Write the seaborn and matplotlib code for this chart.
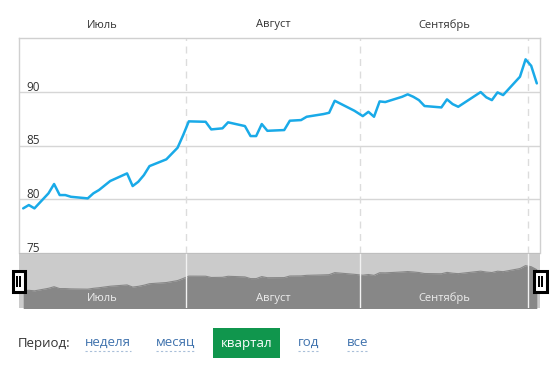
import numpy as np
import pandas as pd
import matplotlib
matplotlib.use("Agg")
import matplotlib.pyplot as plt
from matplotlib.patches import Rectangle
import seaborn as sns

# ---- data ----
days = [2, 3, 4, 6.5, 7.5, 8.5, 9.5, 10.5, 13.5, 14.5, 15.5, 17.5, 20.5, 21.5, 22.5,
        23.5, 24.5, 27.5, 29.5, 30.5, 31.5, 34.5, 35.5, 37.5, 38.5, 41.5, 42.5, 43.5,
        44.5, 45.5, 48.5, 49.5, 51.5, 52.5, 55.5, 56.5, 57.5, 61, 62.5, 63.5, 64.5,
        65.5, 66.5, 69.5, 70.5, 71.5, 72.5, 73.5, 76.5, 77.5, 78.5, 79.5, 83.5, 84.5,
        85.5, 86.5, 87.5, 90.5, 91.5, 92.5, 93.5]
values = [79.16, 79.47, 79.16, 80.56, 81.43, 80.40, 80.40, 80.24, 80.09, 80.56, 80.87,
          81.71, 82.42, 81.24, 81.64, 82.26, 83.10, 83.73, 84.81, 85.99, 87.27, 87.23,
          86.52, 86.62, 87.18, 86.83, 85.90, 85.90, 87.02, 86.39, 86.46, 87.33, 87.39,
          87.70, 87.95, 88.07, 89.19, 88.26, 87.76, 88.16, 87.70, 89.13, 89.07, 89.56,
          89.79, 89.56, 89.25, 88.70, 88.57, 89.32, 88.88, 88.63, 90.00, 89.51, 89.25,
          89.97, 89.72, 91.43, 93.05, 92.45, 90.81]
months = ["Июль", "Август", "Сентябрь"]
month_starts = [0, 31, 62, 92]
yticks = [75, 80, 85, 90]
period_label = "Период:"
period_options = ["неделя", "месяц", "квартал", "год", "все"]
active_option = "квартал"

df = pd.DataFrame({"day": days, "value": values})

sns.set_theme(style="white")
plt.rcParams["font.family"] = ["Open Sans", "DejaVu Sans"]

W, H = 557, 375
fig = plt.figure(figsize=(W / 100, H / 100), dpi=100)
fig.patch.set_facecolor("white")


def fx(px):
    return px / W


def fy(py):
    return 1 - py / H


XMIN, XMAX = 1.25, 94.07

# ---- main chart ----
ax = fig.add_axes([fx(19), fy(253), fx(540) - fx(19), fy(38) - fy(253)])
ax.set_facecolor("white")
sns.lineplot(data=df, x="day", y="value", ax=ax, color="#19aae8", lw=1.8)
ax.set_xlim(XMIN, XMAX)
ax.set_ylim(75, 95.04)
for yv in yticks:
    ax.axhline(yv, color="#d6d6d6", lw=1, zorder=0)
    ax.text(0.014, yv + 0.12, str(yv), transform=ax.get_yaxis_transform(),
            ha="left", va="baseline", fontsize=8.5, color="#333333")
for ms in month_starts[1:]:
    ax.axvline(ms, color="#dcdcdc", lw=1, ls=(0, (5, 4)), zorder=0)
ax.set_xticks([])
ax.set_yticks([])
ax.set_xlabel("")
ax.set_ylabel("")
for s in ["left", "top", "right"]:
    ax.spines[s].set_color("#d0d0d0")
    ax.spines[s].set_linewidth(1)
ax.spines["bottom"].set_visible(False)

# month labels above
bounds = [XMIN] + month_starts[1:3] + [month_starts[3]]
for i, m in enumerate(months):
    c = (bounds[i] + bounds[i + 1]) / 2
    ax.text(c, 1.0 + 13 / 215, m, transform=ax.get_xaxis_transform(),
            ha="center", va="center", fontsize=8, color="#333333")

# ---- navigator ----
nav = fig.add_axes([fx(19), fy(307.5), fx(540) - fx(19), fy(253) - fy(307.5)])
nav.set_facecolor("#cbcbcb")
nav.fill_between(df["day"], df["value"], 60, color="#878787", lw=0)
sns.lineplot(data=df, x="day", y="value", ax=nav, color="#878787", lw=0.8)
nav.set_xlim(XMIN, XMAX)
nav.set_ylim(70, 100)
for ms in month_starts[1:]:
    nav.axvline(ms, color="#f2f2f2", lw=1)
for i, m in enumerate(months):
    c = (bounds[i] + bounds[i + 1]) / 2
    nav.text(c, 0.17, m, transform=nav.get_xaxis_transform(), ha="center",
             va="center", fontsize=8, color="#eeeeee")
nav.set_xticks([])
nav.set_yticks([])
nav.set_xlabel("")
nav.set_ylabel("")
for s in nav.spines.values():
    s.set_visible(False)
nav.axhline(100, color="#bdbdbd", lw=1.2)


# handles
def handle(x0, x1, y0, y1):
    fig.add_artist(Rectangle((fx(x0), fy(y1)), fx(x1) - fx(x0), fy(y0) - fy(y1),
                             transform=fig.transFigure, facecolor="white",
                             edgecolor="black", lw=2.2, zorder=10))
    w = x1 - x0
    for bx in (x0 + w * 0.37, x0 + w * 0.63):
        fig.add_artist(Rectangle((fx(bx - 1), fy(y1 - 5)), fx(2), fy(y0 + 5) - fy(y1 - 5),
                                 transform=fig.transFigure, facecolor="black",
                                 edgecolor="none", zorder=11))


handle(12.5, 25, 271, 292)
handle(534, 547, 271, 292)

# ---- period selector ----
fig.text(fx(18), fy(343), period_label, ha="left", va="center", fontsize=9.5,
         color="#333333")
centers = [107.5, 176, 246.5, 309, 358]
for name, cx in zip(period_options, centers):
    if name == active_option:
        fig.add_artist(Rectangle((fx(213), fy(357.5)), fx(280) - fx(213),
                                 fy(328) - fy(357.5), transform=fig.transFigure,
                                 facecolor="#10964d", edgecolor="none"))
        fig.text(fx(cx), fy(343), name, ha="center", va="center", fontsize=9.5,
                 color="white")
    else:
        t = fig.text(fx(cx), fy(342.5), name, ha="center", va="center",
                     fontsize=9.5, color="#3f72ad")
        fig.canvas.draw()
        bb = t.get_window_extent()
        fig.add_artist(plt.Line2D([bb.x0 / W, bb.x1 / W], [fy(350.5), fy(350.5)],
                                  transform=fig.transFigure, color="#a9bfd9",
                                  lw=0.8, ls=(0, (2, 2))))

fig.savefig("out.png", dpi=100)
